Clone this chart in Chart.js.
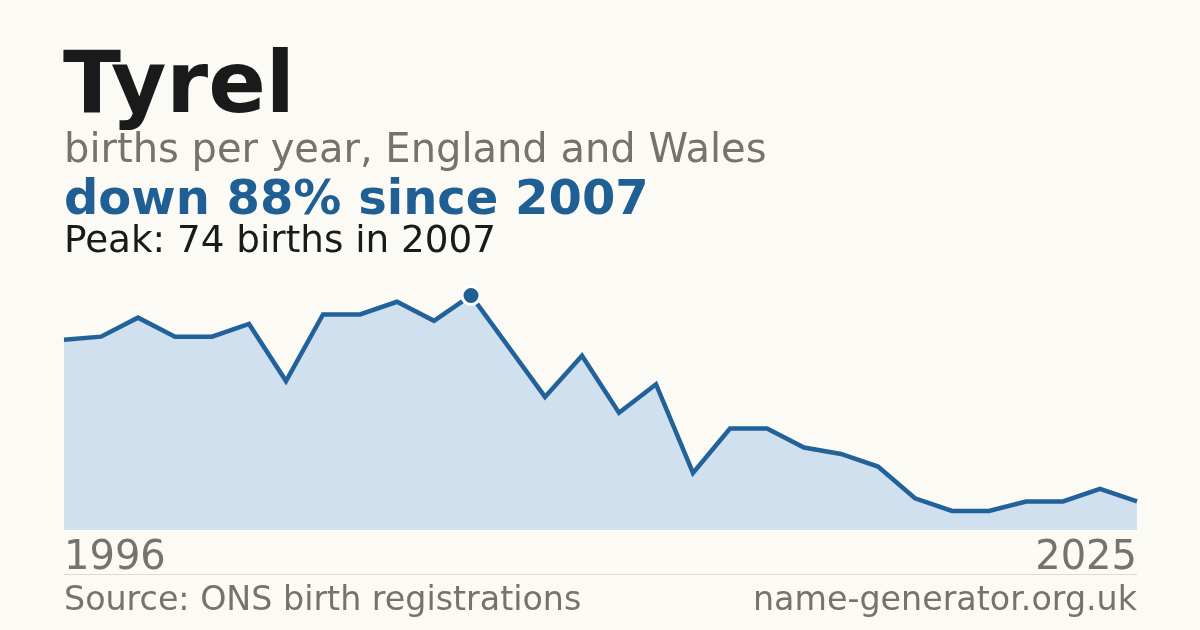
<!DOCTYPE html>
<html>
<head>
<meta charset="utf-8">
<script src="https://cdn.jsdelivr.net/npm/chart.js@4/dist/chart.umd.min.js"></script>
<style>
  html, body { margin: 0; padding: 0; background: #fbfaf5; }
  #wrap { position: relative; width: 1200px; height: 630px; overflow: hidden; font-family: "DejaVu Sans", sans-serif; }
  #c { position: absolute; left: 0; top: 0; }
  .t { position: absolute; white-space: nowrap; line-height: 1; }
  #title { left: 63px; top: 40px; font-size: 85px; font-weight: bold; color: #1a1a1a; }
  #sub { left: 64px; top: 128px; font-size: 40px; color: #77736b; }
  #chg { left: 64px; top: 173px; font-size: 48px; font-weight: bold; color: #1f5f94; }
  #peak { left: 64px; top: 221px; font-size: 37.3px; color: #1a1a1a; }
  #y0 { left: 64px; top: 535px; font-size: 40px; color: #77736b; }
  #y1 { right: 63px; top: 535px; font-size: 40px; color: #77736b; }
  #sep { position: absolute; left: 64px; width: 1073px; top: 574px; height: 1px; background: #dedbd3; }
  #src { left: 64px; top: 582px; font-size: 33.3px; color: #77736b; }
  #site { right: 63px; top: 582px; font-size: 33.3px; color: #77736b; }
</style>
</head>
<body>
<div id="wrap">
  <canvas id="c" width="1200" height="630"></canvas>
  <div class="t" id="title">Tyrel</div>
  <div class="t" id="sub">births per year, England and Wales</div>
  <div class="t" id="chg">down 88% since 2007</div>
  <div class="t" id="peak">Peak: 74 births in 2007</div>
  <div class="t" id="y0">1996</div>
  <div class="t" id="y1">2025</div>
  <div id="sep"></div>
  <div class="t" id="src">Source: ONS birth registrations</div>
  <div class="t" id="site">name-generator.org.uk</div>
</div>
<script>
const years = [1996,1997,1998,1999,2000,2001,2002,2003,2004,2005,2006,2007,2008,2009,2010,2011,2012,2013,2014,2015,2016,2017,2018,2019,2020,2021,2022,2023,2024,2025];
const births = [60,61,67,61,61,65,47,68,68,72,66,74,58,42,55,37,46,18,32,32,26,24,20,10,6,6,9,9,13,9];
const peakYear = 2007;

const peakValue = Math.max(...births);
const peakIndex = years.indexOf(peakYear);

const radii = years.map((y, i) => i === peakIndex ? 9 : 0);

new Chart(document.getElementById('c'), {
  type: 'line',
  data: {
    labels: years.map(String),
    datasets: [{
      data: births,
      borderColor: '#22629a',
      borderWidth: 4.5,
      backgroundColor: '#d0e0ef',
      fill: 'origin',
      tension: 0,
      pointRadius: radii,
      pointHoverRadius: radii,
      pointBackgroundColor: '#1f5f94',
      pointBorderColor: '#ffffff',
      pointBorderWidth: 3,
      clip: false
    }]
  },
  options: {
    responsive: false,
    animation: false,
    devicePixelRatio: 1,
    layout: { padding: { left: 64, right: 63, top: 272, bottom: 100 } },
    plugins: { legend: { display: false }, tooltip: { enabled: false } },
    scales: {
      x: { display: false, offset: false },
      y: { display: false, min: 0, max: peakValue * 1.1 }
    }
  }
});
</script>
</body>
</html>
